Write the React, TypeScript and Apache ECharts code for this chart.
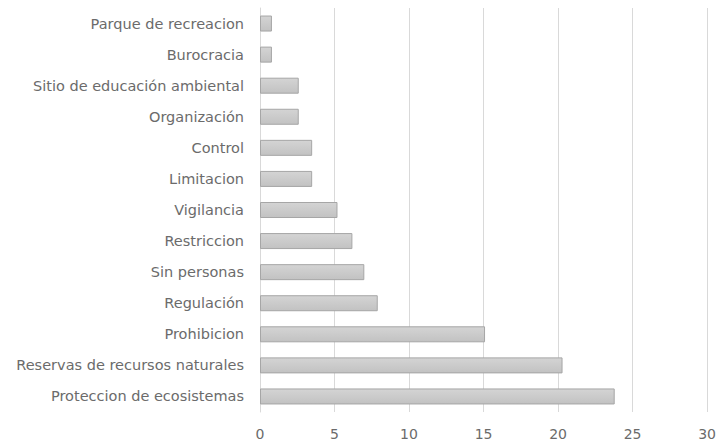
import React, { useEffect, useRef } from "react";
import * as echarts from "echarts";

const categories = [
  "Proteccion de ecosistemas",
  "Reservas de recursos naturales",
  "Prohibicion",
  "Regulación",
  "Sin personas",
  "Restriccion",
  "Vigilancia",
  "Limitacion",
  "Control",
  "Organización",
  "Sitio de educación ambiental",
  "Burocracia",
  "Parque de recreacion",
];
const values = [23.8, 20.3, 15.1, 7.9, 7.0, 6.2, 5.2, 3.5, 3.5, 2.6, 2.6, 0.8, 0.8];
const xTicks = { min: 0, max: 30, interval: 5 };

export default function App() {
  const ref = useRef<HTMLDivElement>(null);
  useEffect(() => {
    const chart = echarts.init(ref.current!, null, { renderer: "svg" });
    chart.setOption({
      animation: false,
      textStyle: { fontFamily: "DejaVu Sans" },
      grid: { left: 260, right: 11, top: 8, bottom: 29, containLabel: false },
      xAxis: {
        type: "value",
        min: xTicks.min,
        max: xTicks.max,
        interval: xTicks.interval,
        axisLine: { show: false },
        axisTick: { show: false },
        splitLine: { show: true, lineStyle: { color: "#d9d9d9", width: 1 } },
        axisLabel: { color: "#6b6b6b", fontSize: 14, margin: 15, fontFamily: "DejaVu Sans" },
      },
      yAxis: {
        type: "category",
        data: categories,
        axisLine: { show: true, lineStyle: { color: "#d9d9d9" } },
        axisTick: { show: false },
        axisLabel: { color: "#6b6b6b", fontSize: 14.5, margin: 16, fontFamily: "DejaVu Sans" },
      },
      series: [
        {
          type: "bar",
          data: values,
          barWidth: 16,
          itemStyle: {
            color: new echarts.graphic.LinearGradient(0, 0, 0, 1, [
              { offset: 0, color: "#d4d4d4" },
              { offset: 1, color: "#c2c2c2" },
            ]),
            borderColor: "#a6a6a6",
            borderWidth: 1,
          },
        },
      ],
    });
    return () => chart.dispose();
  }, []);
  return <div ref={ref} style={{ width: 719, height: 441, position: "absolute", left: 0, top: 0 }} />;
}
